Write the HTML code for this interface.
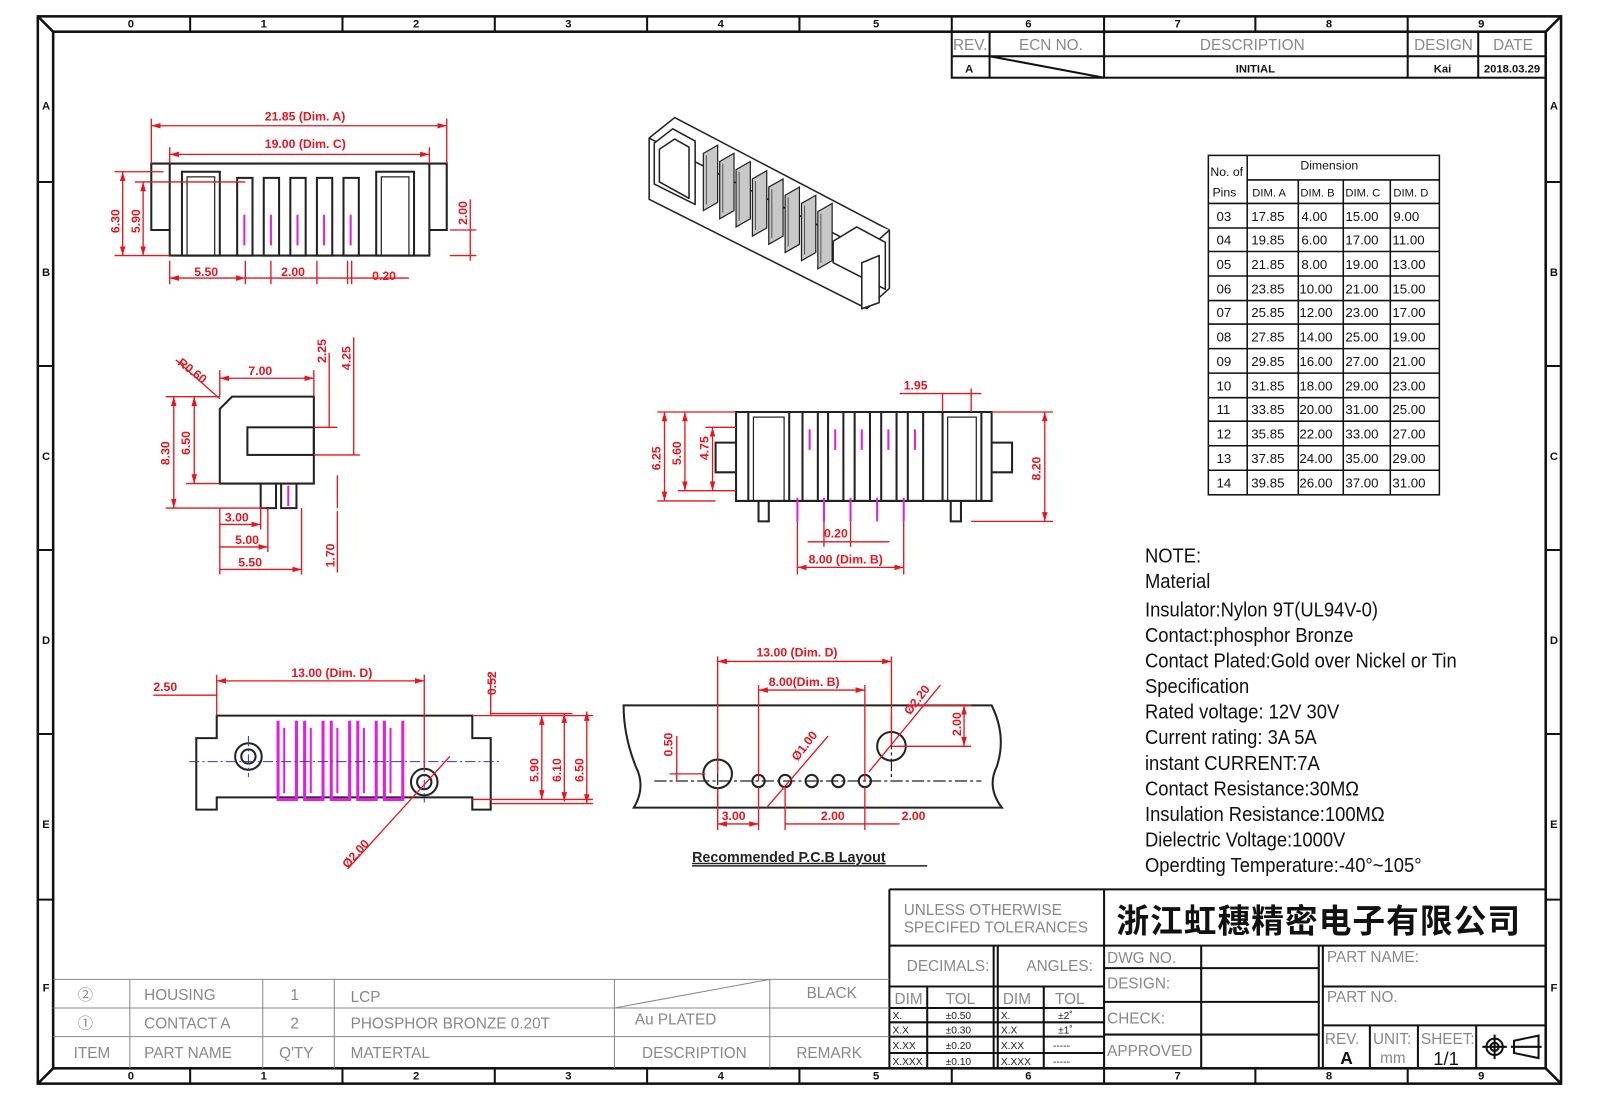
<!DOCTYPE html>
<html><head><meta charset="utf-8"><style>
html,body{margin:0;padding:0;background:#fff}
svg{display:block}
text{font-family:"Liberation Sans","Noto Sans CJK SC",sans-serif}
.r{fill:#e8141e;font-size:12px;font-weight:bold}
.rl{stroke:#e8141e;stroke-width:1.3;fill:none}
.k{stroke:#222;stroke-width:2;fill:none}
.k1{stroke:#222;stroke-width:1.2;fill:none}
.m{stroke:#e020e0;stroke-width:2;fill:none}
.g{fill:#888;font-size:15px}
.t{fill:#222;font-size:15px}
.n{fill:#111;font-size:20px}
.b{fill:#111;font-size:11px;font-weight:bold}
</style></head><body>
<svg width="1605" height="1100" viewBox="0 0 1570 1076" xmlns="http://www.w3.org/2000/svg">
<defs>
<marker id="a" viewBox="0 0 10 10" refX="10" refY="5" markerWidth="7" markerHeight="7" orient="auto-start-reverse"><path d="M0,2 L10,5 L0,8z" fill="#e8141e"/></marker>
</defs>
<rect width="1570" height="1076" fill="#fff"/>
<!-- frame -->
<g stroke="#111" fill="none" stroke-width="2.5">
<rect x="37" y="16" width="1490" height="1044"/>
<rect x="52" y="31" width="1460" height="1014"/>
<path d="M37,16 L52,31 M1527,16 L1512,31 M37,1060 L52,1045 M1527,1060 L1512,1045"/>
</g>
<g stroke="#111" stroke-width="2">
<path d="M186,16V31M335,16V31M484,16V31M633,16V31M782,16V31M931,16V31M1080,16V31M1228,16V31M1377,16V31"/>
<path d="M186,1045V1060M335,1045V1060M484,1045V1060M633,1045V1060M782,1045V1060M931,1045V1060M1080,1045V1060M1228,1045V1060M1377,1045V1060"/>
<path d="M37,178H52M37,358H52M37,538H52M37,718H52M37,880H52M1512,178H1527M1512,358H1527M1512,538H1527M1512,718H1527M1512,880H1527"/>
</g>
<g class="b" text-anchor="middle">
<text x="128" y="27">0</text><text x="258" y="27">1</text><text x="407" y="27">2</text><text x="556" y="27">3</text><text x="705" y="27">4</text><text x="857" y="27">5</text><text x="1006" y="27">6</text><text x="1152" y="27">7</text><text x="1300" y="27">8</text><text x="1449" y="27">9</text>
<text x="128" y="1056">0</text><text x="258" y="1056">1</text><text x="407" y="1056">2</text><text x="556" y="1056">3</text><text x="705" y="1056">4</text><text x="857" y="1056">5</text><text x="1006" y="1056">6</text><text x="1152" y="1056">7</text><text x="1300" y="1056">8</text><text x="1449" y="1056">9</text>
<text x="45" y="107">A</text><text x="45" y="270">B</text><text x="45" y="450">C</text><text x="45" y="630">D</text><text x="45" y="810">E</text><text x="45" y="970">F</text>
<text x="1520" y="107">A</text><text x="1520" y="270">B</text><text x="1520" y="450">C</text><text x="1520" y="630">D</text><text x="1520" y="810">E</text><text x="1520" y="970">F</text>
</g>
<!-- revision table -->
<g stroke="#111" stroke-width="2" fill="none">
<rect x="931" y="31" width="581" height="45"/><path d="M931,55H1512M968,31V76M1080,31V76M1377,31V76M1446,31V76M968,55L1080,76"/>
</g>
<g class="g" font-size="14" text-anchor="middle">
<text x="949" y="49">REV.</text><text x="1028" y="49">ECN  NO.</text><text x="1225" y="49">DESCRIPTION</text><text x="1412" y="49">DESIGN</text><text x="1480" y="49">DATE</text>
</g>
<g class="b" text-anchor="middle" font-size="12"><text x="948" y="71">A</text><text x="1228" y="71">INITIAL</text><text x="1411" y="71">Kai</text><text x="1479" y="71">2018.03.29</text></g>
<!-- dimension table -->
<g stroke="#111" stroke-width="1.5" fill="none">
<rect x="1182" y="152" width="226" height="332"/>
<path d="M1220,152V484M1220,176H1408M1182,199H1408M1270,176V484M1314,176V484M1360,176V484"/>
<path d="M1182,223H1408M1182,246H1408M1182,270H1408M1182,294H1408M1182,317H1408M1182,341H1408M1182,365H1408M1182,389H1408M1182,412H1408M1182,436H1408M1182,460H1408"/>
</g>
<g fill="#111" font-size="12" font-family="Liberation Mono,monospace">
<text x="1184" y="172">No. of</text><text x="1272" y="166">Dimension</text>
<text x="1186" y="192">Pins</text><text x="1225" y="192" font-size="11">DIM. A</text><text x="1272" y="192" font-size="11">DIM. B</text><text x="1316" y="192" font-size="11">DIM. C</text><text x="1363" y="192" font-size="11">DIM. D</text>
</g>
<g fill="#111" font-size="13" font-family="Liberation Mono,monospace">
<text x="1190" y="216">03</text><text x="1224" y="216">17.85</text><text x="1273" y="216">4.00</text><text x="1316" y="216">15.00</text><text x="1363" y="216">9.00</text>
<text x="1190" y="239">04</text><text x="1224" y="239">19.85</text><text x="1273" y="239">6.00</text><text x="1316" y="239">17.00</text><text x="1362" y="239">11.00</text>
<text x="1190" y="263">05</text><text x="1224" y="263">21.85</text><text x="1273" y="263">8.00</text><text x="1316" y="263">19.00</text><text x="1362" y="263">13.00</text>
<text x="1190" y="287">06</text><text x="1224" y="287">23.85</text><text x="1271" y="287">10.00</text><text x="1316" y="287">21.00</text><text x="1362" y="287">15.00</text>
<text x="1190" y="310">07</text><text x="1224" y="310">25.85</text><text x="1271" y="310">12.00</text><text x="1316" y="310">23.00</text><text x="1362" y="310">17.00</text>
<text x="1190" y="334">08</text><text x="1224" y="334">27.85</text><text x="1271" y="334">14.00</text><text x="1316" y="334">25.00</text><text x="1362" y="334">19.00</text>
<text x="1190" y="358">09</text><text x="1224" y="358">29.85</text><text x="1271" y="358">16.00</text><text x="1316" y="358">27.00</text><text x="1362" y="358">21.00</text>
<text x="1190" y="382">10</text><text x="1224" y="382">31.85</text><text x="1271" y="382">18.00</text><text x="1316" y="382">29.00</text><text x="1362" y="382">23.00</text>
<text x="1190" y="405">11</text><text x="1224" y="405">33.85</text><text x="1271" y="405">20.00</text><text x="1316" y="405">31.00</text><text x="1362" y="405">25.00</text>
<text x="1190" y="429">12</text><text x="1224" y="429">35.85</text><text x="1271" y="429">22.00</text><text x="1316" y="429">33.00</text><text x="1362" y="429">27.00</text>
<text x="1190" y="453">13</text><text x="1224" y="453">37.85</text><text x="1271" y="453">24.00</text><text x="1316" y="453">35.00</text><text x="1362" y="453">29.00</text>
<text x="1190" y="477">14</text><text x="1224" y="477">39.85</text><text x="1271" y="477">26.00</text><text x="1316" y="477">37.00</text><text x="1362" y="477">31.00</text>
</g>
<!-- notes -->
<g class="n" transform="translate(1120,0) scale(0.9,1)">
<text x="0" y="550">NOTE:</text>
<text x="0" y="575">Material</text>
<text x="0" y="603">Insulator:Nylon  9T(UL94V-0)</text>
<text x="0" y="628">Contact:phosphor  Bronze</text>
<text x="0" y="653">Contact  Plated:Gold  over  Nickel  or  Tin</text>
<text x="0" y="678">Specification</text>
<text x="0" y="703">Rated  voltage:  12V  30V</text>
<text x="0" y="728">Current  rating:  3A    5A</text>
<text x="0" y="753">instant  CURRENT:7A</text>
<text x="0" y="778">Contact  Resistance:30MΩ</text>
<text x="0" y="803">Insulation  Resistance:100MΩ</text>
<text x="0" y="828">Dielectric  Voltage:1000V</text>
<text x="0" y="853">Operdting  Temperature:-40°~105°</text>
</g>
<!-- title block -->
<g stroke="#111" stroke-width="2" fill="none">
<path d="M870,870H1512M870,870V1045M1080,870V1045M870,925H1512M1290,925V1045M1294,925V1045M972,925V1045M976,925V1045"/>
<path d="M870,965H1080M870,986H1080M870,1000H1080M870,1014H1080M870,1030H1080M907,965V1045M1021,965V1045"/>
<path d="M1080,947H1290M1080,980H1290M1080,1012H1290M1175,925V1045"/>
<path d="M1294,965H1512M1294,1003H1512M1340,1003V1045M1387,1003V1045M1444,1003V1045"/>
</g>
<g class="g" font-size="15"><text x="884" y="895">UNLESS  OTHERWISE</text><text x="884" y="912">SPECIFED  TOLERANCES</text>
<text x="887" y="950">DECIMALS:</text><text x="1004" y="950">ANGLES:</text>
<text x="875" y="982">DIM</text><text x="925" y="982">TOL</text><text x="981" y="982">DIM</text><text x="1032" y="982">TOL</text>
<text x="1083" y="942">DWG  NO.</text><text x="1083" y="967">DESIGN:</text><text x="1083" y="1001">CHECK:</text><text x="1083" y="1033">APPROVED</text>
<text x="1298" y="941">PART  NAME:</text><text x="1298" y="980">PART  NO.</text>
<text x="1296" y="1021">REV.</text><text x="1343" y="1021">UNIT:</text><text x="1390" y="1021">SHEET:</text><text x="1350" y="1040">mm</text>
</g>
<g fill="#222" font-size="10"><text x="873" y="997">X.</text><text x="925" y="997">±0.50</text><text x="979" y="997">X.</text><text x="1035" y="997">±2˚</text>
<text x="873" y="1011">X.X</text><text x="925" y="1011">±0.30</text><text x="979" y="1011">X.X</text><text x="1035" y="1011">±1˚</text>
<text x="873" y="1026">X.XX</text><text x="925" y="1026">±0.20</text><text x="979" y="1026">X.XX</text><text x="1030" y="1026">-----</text>
<text x="873" y="1042">X.XXX</text><text x="925" y="1042">±0.10</text><text x="979" y="1042">X.XXX</text><text x="1030" y="1042">-----</text></g>
<text x="1092" y="912" font-size="32" font-weight="bold" fill="#111" font-family="'Noto Sans CJK SC','WenQuanYi Zen Hei',sans-serif" letter-spacing="1">浙江虹穗精密电子有限公司</text>
<text x="1311" y="1041" font-size="17" font-weight="bold" fill="#111">A</text><text x="1402" y="1042" font-size="18" fill="#111">1/1</text>
<g stroke="#111" stroke-width="2" fill="none"><circle cx="1462" cy="1024" r="8"/><circle cx="1462" cy="1024" r="4"/><path d="M1450,1024H1474M1462,1012V1036M1481,1018L1505,1013V1035L1481,1030ZM1478,1024H1508"/></g>
<!-- parts list -->
<g stroke="#888" stroke-width="1" fill="none">
<path d="M52,958H870M52,986H870M52,1014H870M127,958V1045M257,958V1045M327,958V1045M601,958V1045M753,958V1045M601,986L753,958"/>
</g>
<g class="g" font-size="16">
<text x="76" y="978">②</text><text x="141" y="978">HOUSING</text><text x="284" y="978">1</text><text x="343" y="980">LCP</text><text x="789" y="976">BLACK</text>
<text x="76" y="1006">①</text><text x="141" y="1006">CONTACT  A</text><text x="284" y="1006">2</text><text x="343" y="1006">PHOSPHOR  BRONZE  0.20T</text><text x="621" y="1002">Au  PLATED</text>
<text x="72" y="1035">ITEM</text><text x="141" y="1035">PART  NAME</text><text x="273" y="1035">Q'TY</text><text x="343" y="1035">MATERTAL</text><text x="628" y="1035">DESCRIPTION</text><text x="779" y="1035">REMARK</text>
</g>

<!-- VIEW 1 top -->
<g class="k">
<path d="M166,160H420V250H166Z M148,160H166V225H148Z M420,160H437V225H420Z"/>
<rect x="178" y="168" width="37" height="82"/><rect x="183" y="173" width="27" height="77" class="k1"/>
<rect x="368" y="168" width="37" height="82"/><rect x="373" y="173" width="27" height="77" class="k1"/>
<rect x="232" y="174" width="15" height="76"/><rect x="258" y="174" width="15" height="76"/><rect x="284" y="174" width="15" height="76"/><rect x="310" y="174" width="15" height="76"/><rect x="336" y="174" width="15" height="76"/>
</g>
<g class="m"><path d="M239,210V240M265,210V240M291,210V240M317,210V240M343,210V240"/></g>
<g class="rl">
<path d="M148,123H437" marker-start="url(#a)" marker-end="url(#a)"/><path d="M148,116V160M437,116V160M166,144V160M420,144V160"/>
<path d="M166,151H420" marker-start="url(#a)" marker-end="url(#a)"/>
<path d="M120,168V250" marker-start="url(#a)" marker-end="url(#a)"/><path d="M140,178V250" marker-start="url(#a)" marker-end="url(#a)"/>
<path d="M112,168H160M132,178H240M112,250H166"/>
<path d="M460,195V255M440,225H466M440,250H466"/>
<path d="M166,255V278M240,255V278M265,255V278M310,255V278M344,255V278M340,255V278"/>
<path d="M166,272H240" marker-start="url(#a)" marker-end="url(#a)"/><path d="M240,272H265M265,272H320"/><path d="M320,272H400"/>
</g>
<g class="r"><text x="259" y="118">21.85 (Dim. A)</text><text x="259" y="145">19.00 (Dim. C)</text><text x="190" y="270">5.50</text><text x="275" y="270">2.00</text><text x="364" y="274">0.20</text>
<text transform="translate(117,228) rotate(-90)">6.30</text><text transform="translate(137,228) rotate(-90)">5.90</text><text transform="translate(457,220) rotate(-90)">2.00</text></g>

<!-- 3D view -->
<g stroke="#222" stroke-width="1.5" fill="#fff" stroke-linejoin="round">
<path d="M635,135L660,115L870,225L870,282L848,302L635,195Z"/>
<path d="M635,135L848,245L870,225M848,245V302"/>
<path d="M640,140L658,126L680,138V200L640,180Z"/>
<path d="M645,146L660,136L674,144V194L645,178Z"/>
<path d="M815,236L838,222L866,237V283L815,257Z"/>
<path d="M843,257L860,250V296L843,302Z"/>
</g>
<g stroke="#222" stroke-width="1.2" fill="#c8c8c8">
<path d="M688,150L702,142L702,198L688,206Z"/><path d="M704,158L718,150L718,206L704,214Z"/><path d="M720,166L734,158L734,214L720,222Z"/><path d="M736,175L750,167L750,223L736,231Z"/><path d="M752,183L766,175L766,231L752,239Z"/>
<path d="M768,191L782,183L782,239L768,247Z"/><path d="M784,199L798,191L798,247L784,255Z"/><path d="M800,207L814,199L814,255L800,263Z"/>
</g>
<g stroke="#555" stroke-width="1"><path d="M691,152V200M707,160V208M723,168V216M739,177V225M755,185V233M771,193V241M787,201V249M803,209V257"/></g>

<!-- side view -->
<g class="k">
<path d="M215,400L227,388H307V473H215Z"/><rect x="242" y="418" width="65" height="27"/>
<path d="M255,473V497H270V473M275,473V497H290V473"/>
</g>
<g class="m"><path d="M282,475V495"/></g>
<g class="rl">
<path d="M170,388V497" marker-start="url(#a)" marker-end="url(#a)"/><path d="M190,388V473" marker-start="url(#a)" marker-end="url(#a)"/>
<path d="M162,388H215M182,473H215M162,497H260"/>
<path d="M215,370H307" marker-start="url(#a)" marker-end="url(#a)"/><path d="M215,362V388M307,362V388"/>
<path d="M322,345V418M346,330V445M307,418H330M307,445H352"/>
<path d="M215,513H255" marker-end="url(#a)"/><path d="M215,535H262" marker-end="url(#a)"/><path d="M215,557H295" marker-end="url(#a)"/>
<path d="M215,497V562M255,497V518M262,497V540M295,497V562"/>
<path d="M330,465V497M330,500V560"/><path d="M172,352L215,390"/>
</g>
<g class="r"><text x="243" y="367">7.00</text><text x="220" y="510">3.00</text><text x="230" y="532">5.00</text><text x="233" y="554">5.50</text>
<text transform="translate(166,455) rotate(-90)">8.30</text><text transform="translate(186,445) rotate(-90)">6.50</text><text transform="translate(319,355) rotate(-90)">2.25</text><text transform="translate(343,362) rotate(-90)">4.25</text><text transform="translate(327,555) rotate(-90)">1.70</text>
<text transform="translate(173,356) rotate(38)">R0.60</text></g>

<!-- front view -->
<g class="k">
<path d="M720,403H970V490H720Z M700,433H720V462H700Z M970,433H990V462H970Z"/>
<rect x="732" y="403" width="40" height="87"/><rect x="737" y="408" width="30" height="82" class="k1"/>
<rect x="922" y="403" width="38" height="87"/><rect x="927" y="408" width="28" height="82" class="k1"/>
<rect x="785" y="403" width="15" height="87"/><rect x="810" y="403" width="15" height="87"/><rect x="836" y="403" width="15" height="87"/><rect x="862" y="403" width="15" height="87"/><rect x="888" y="403" width="15" height="87"/>
<path d="M742,490V510H752V490M930,490V510H940V490"/>
</g>
<g class="m"><path d="M792,420V440M817,420V440M843,420V440M869,420V440M895,420V440M780,487V510M806,487V510M832,487V510M858,487V510M884,487V510"/></g>
<g class="rl">
<path d="M650,403V490" marker-start="url(#a)" marker-end="url(#a)"/><path d="M670,403V480" marker-start="url(#a)" marker-end="url(#a)"/><path d="M697,418V480" marker-start="url(#a)" marker-end="url(#a)"/>
<path d="M643,403H720M663,480H720M690,418H720M643,490H700"/>
<path d="M1022,403V510" marker-start="url(#a)" marker-end="url(#a)"/><path d="M970,403H1030M950,510H1030"/>
<path d="M880,385H960" /><path d="M922,385V403M950,380V403"/>
<path d="M780,510V562M884,510V562"/><path d="M780,555H884" marker-start="url(#a)" marker-end="url(#a)"/>
<path d="M790,530H870M806,510V535M832,510V535"/>
</g>
<g class="r"><text x="884" y="381">1.95</text><text x="806" y="526">0.20</text><text x="791" y="551">8.00 (Dim. B)</text>
<text transform="translate(646,460) rotate(-90)">6.25</text><text transform="translate(666,455) rotate(-90)">5.60</text><text transform="translate(693,450) rotate(-90)">4.75</text><text transform="translate(1018,470) rotate(-90)">8.20</text></g>

<!-- bottom-left view -->
<g class="k">
<path d="M192,722H212V700H462V722H480V792H462V780H212V792H192Z"/>
<circle cx="243" cy="740" r="13"/><circle cx="243" cy="740" r="7"/><circle cx="415" cy="765" r="13"/><circle cx="415" cy="765" r="7"/>
</g>
<g stroke="#e020e0" stroke-width="3" fill="none">
<path d="M272,705V782H290V705M298,705V782H316V705M324,705V782H342V705M350,705V782H368V705M376,705V782H394V705"/>
<path d="M278,712V776M304,712V776M330,712V776M356,712V776M382,712V776" stroke-width="2"/>
</g>
<g stroke="#33c" stroke-width="1" stroke-dasharray="10,3,2,3" fill="none"><path d="M185,745H490M243,720V760M415,745V785"/></g>
<g class="rl">
<path d="M212,666H415" marker-start="url(#a)" marker-end="url(#a)"/><path d="M150,680H212"/><path d="M212,660V700M415,660V752"/>
<path d="M480,660V700"/>
<path d="M530,700V782" marker-start="url(#a)" marker-end="url(#a)"/><path d="M552,698V784" marker-start="url(#a)" marker-end="url(#a)"/><path d="M574,696V786" marker-start="url(#a)" marker-end="url(#a)"/>
<path d="M462,700H580M462,782H580M480,698H560M480,786H580"/>
<path d="M340,850L440,740"/>
</g>
<g class="r"><text x="150" y="676">2.50</text><text x="285" y="662">13.00 (Dim. D)</text>
<text transform="translate(485,680) rotate(-90)">0.52</text><text transform="translate(527,765) rotate(-90)">5.90</text><text transform="translate(549,765) rotate(-90)">6.10</text><text transform="translate(571,765) rotate(-90)">6.50</text>
<text transform="translate(340,850) rotate(-48)">Ø2.00</text></g>

<!-- PCB layout -->
<g class="k">
<path d="M610,690H970Q985,720 975,750Q965,770 980,790H620Q632,770 622,750Q610,720 610,690Z"/>
<circle cx="702" cy="757" r="14"/><circle cx="872" cy="730" r="14"/>
<circle cx="742" cy="764" r="6"/><circle cx="768" cy="764" r="6"/><circle cx="794" cy="764" r="6"/><circle cx="820" cy="764" r="6"/><circle cx="846" cy="764" r="6"/>
</g>
<g stroke="#222" stroke-width="1.2" stroke-dasharray="12,3,3,3"><path d="M640,764H960M702,735V800M872,700V760"/></g>
<g class="rl">
<path d="M702,647H872" marker-start="url(#a)" marker-end="url(#a)"/><path d="M702,642V757M872,642V730"/>
<path d="M742,675H846" marker-start="url(#a)" marker-end="url(#a)"/><path d="M742,670V764M846,670V764"/>
<path d="M662,720V764M655,757H690"/>
<path d="M943,690V730" marker-start="url(#a)" marker-end="url(#a)"/><path d="M872,730H950M890,690H950"/>
<path d="M702,806H742" marker-start="url(#a)" marker-end="url(#a)"/><path d="M768,806H846" /><path d="M846,806H880"/><path d="M702,770V812M742,770V812M768,770V812M846,770V812"/>
<path d="M750,790L810,720M850,755L920,670"/>
</g>
<g class="r"><text x="740" y="642">13.00 (Dim. D)</text><text x="752" y="671">8.00(Dim. B)</text><text x="706" y="802">3.00</text><text x="803" y="802">2.00</text><text x="882" y="802">2.00</text>
<text transform="translate(658,740) rotate(-90)">0.50</text><text transform="translate(940,720) rotate(-90)">2.00</text>
<text transform="translate(780,745) rotate(-52)">Ø1.00</text><text transform="translate(890,700) rotate(-52)">Ø2.20</text></g>
<text x="677" y="843" font-size="14" font-weight="bold" fill="#222" text-decoration="underline">Recommended  P.C.B  Layout</text>
<path d="M677,847H907" stroke="#222" stroke-width="1.5"/>
</svg>
</body></html>
